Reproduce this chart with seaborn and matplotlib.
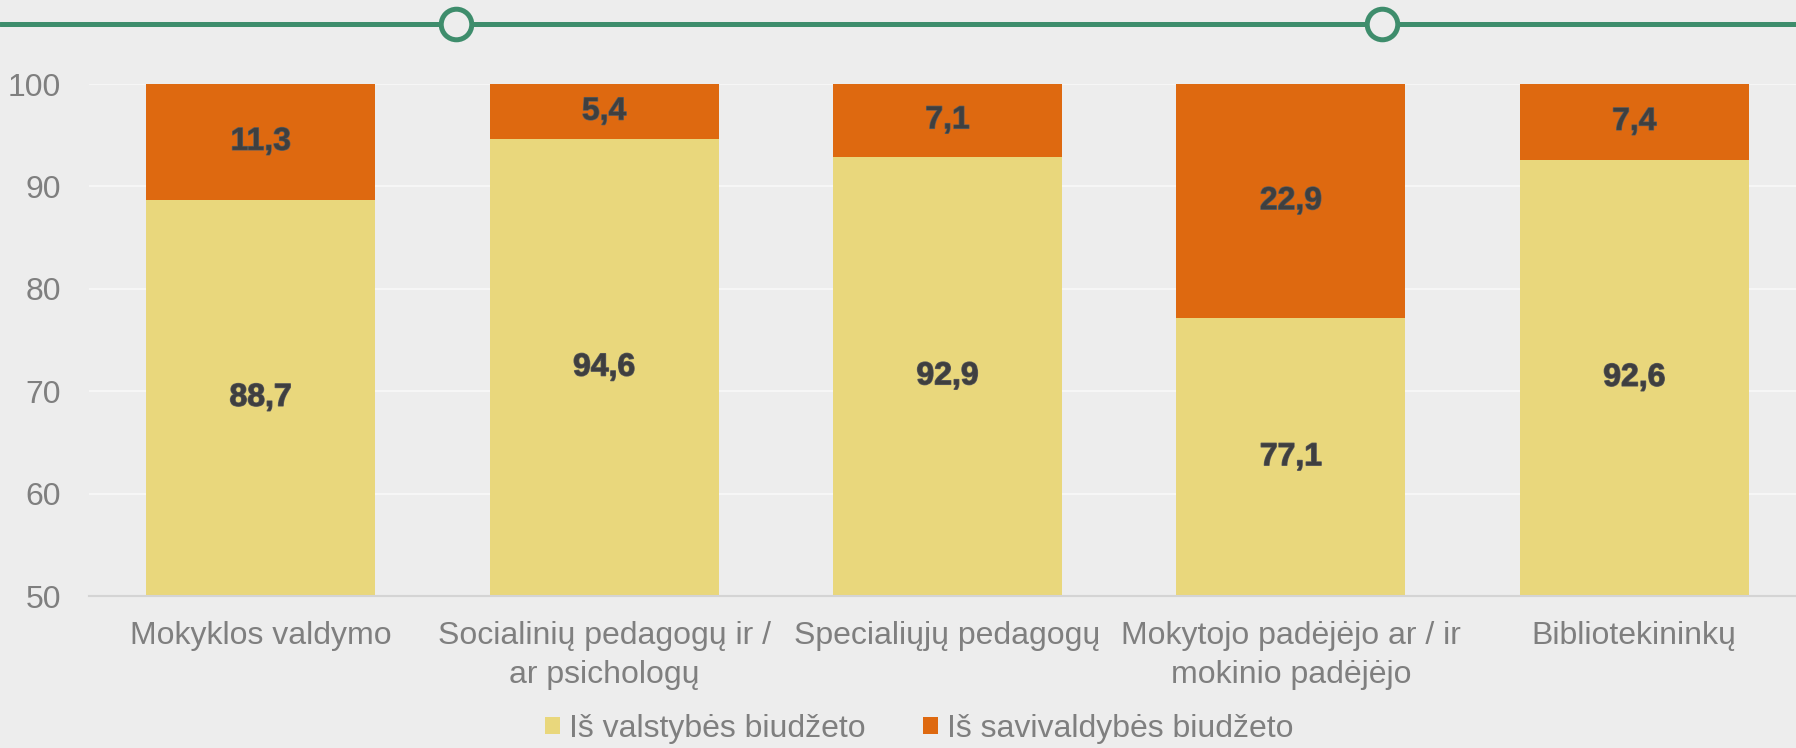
import matplotlib
matplotlib.use("Agg")
import matplotlib.pyplot as plt
import matplotlib.patheffects as pe
from matplotlib.patches import Patch
import pandas as pd
import seaborn as sns

categories = [
    "Mokyklos valdymo",
    "Socialinių pedagogų ir /\nar psichologų",
    "Specialiųjų pedagogų",
    "Mokytojo padėjėjo ar / ir\nmokinio padėjėjo",
    "Bibliotekininkų",
]
state_budget = [88.7, 94.6, 92.9, 77.1, 92.6]
municipal_budget = [11.3, 5.4, 7.1, 22.9, 7.4]
series_names = ["Iš valstybės biudžeto", "Iš savivaldybės biudžeto"]
y_ticks = [50, 60, 70, 80, 90, 100]

BG = "#EDEDED"
YELLOW = "#E9D77C"
ORANGE = "#DE6910"
GREEN = "#3E8D6C"
GRAY_TXT = "#7F7F7F"
LABEL_TXT = "#3F3F3F"

sns.set_theme(style="white")
plt.rcParams["font.family"] = ["Liberation Sans", "DejaVu Sans"]

df = pd.DataFrame({
    "category": categories,
    "state": state_budget,
    "muni": municipal_budget,
})
df["total"] = df["state"] + df["muni"]

fig = plt.figure(figsize=(17.96, 7.48), dpi=100, facecolor=BG)
ax = fig.add_axes([89 / 1796, 152 / 748, 1717 / 1796, 512 / 748])
ax.set_facecolor(BG)

sns.barplot(data=df, x="category", y="total", color=ORANGE, width=0.667,
            saturation=1, linewidth=0, ax=ax, zorder=2)
sns.barplot(data=df, x="category", y="state", color=YELLOW, width=0.667,
            saturation=1, linewidth=0, ax=ax, zorder=3)

ax.set_ylim(50, 100)
ax.set_xlim(-0.5, len(categories) - 0.5)
ax.set_yticks(y_ticks)
ax.yaxis.grid(True, color="#F7F7F7", linewidth=1.3, zorder=0)
ax.set_axisbelow(True)
ax.set_xlabel("")
ax.set_ylabel("")
for s in ["top", "right", "left"]:
    ax.spines[s].set_visible(False)
ax.spines["bottom"].set_color("#D4D4D4")
ax.spines["bottom"].set_linewidth(1.5)
ax.spines["bottom"].set_zorder(5)
ax.tick_params(axis="y", length=0, pad=20, labelsize=23, labelcolor=GRAY_TXT)
ax.tick_params(axis="x", length=0, pad=18, labelsize=23, labelcolor=GRAY_TXT)
for lbl in ax.get_xticklabels():
    lbl.set_linespacing(1.38)

outline = [pe.Stroke(linewidth=1.0, foreground="#5E5E5E"), pe.Normal()]
lo = ax.get_ylim()[0]
for i, (s, m) in enumerate(zip(state_budget, municipal_budget)):
    ax.text(i, (lo + s) / 2, f"{s:.1f}".replace(".", ","), ha="center", va="center",
            fontsize=23, fontweight="bold", color=LABEL_TXT, path_effects=outline, zorder=6)
    ax.text(i, s + m / 2, f"{m:.1f}".replace(".", ","), ha="center", va="center",
            fontsize=23, fontweight="bold", color=LABEL_TXT, path_effects=outline, zorder=6)

# decorative header line with two ring markers
deco = fig.add_axes([0, 0, 1, 1], facecolor="none")
deco.set_xlim(0, 1796)
deco.set_ylim(0, 748)
deco.axis("off")
deco.plot([0, 1796], [724, 724], color=GREEN, linewidth=3.6, zorder=1)
deco.plot([456, 1382], [724, 724], linestyle="none", marker="o", markersize=22,
          markerfacecolor=BG, markeredgecolor=GREEN, markeredgewidth=3.6, zorder=2)

handles = [Patch(facecolor=YELLOW, edgecolor="none"), Patch(facecolor=ORANGE, edgecolor="none")]
fig.legend(handles, series_names, loc="center", bbox_to_anchor=(0.512, 0.026),
           ncol=2, frameon=False, fontsize=23, labelcolor=GRAY_TXT,
           handlelength=0.45, handleheight=0.45, handletextpad=0.3, columnspacing=1.8)

fig.savefig("out.png", dpi=100, facecolor=BG)
